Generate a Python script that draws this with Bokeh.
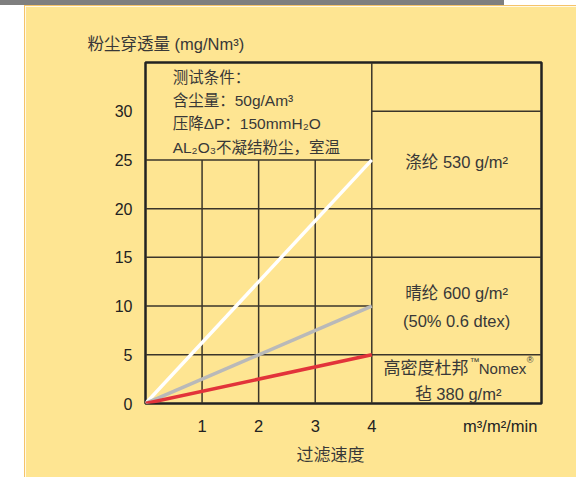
from bokeh.plotting import figure
from bokeh.models import Label, FixedTicker, Spacer, LinearAxis
from bokeh.layouts import row, column
from bokeh.embed import file_html
from bokeh.resources import INLINE

# ---- data ----
speed = [0, 4]                       # m3/m2/min
polyester_530 = [0, 25]              # 涤纶 530 g/m2
acrylic_600 = [0, 10]                # 晴纶 600 g/m2
nomex_380 = [0, 5]                   # Nomex 毡 380 g/m2

y_ticks = [0, 5, 10, 15, 20, 25, 30]
x_ticks = [1, 2, 3, 4]
x_unit_pos = 6.27
x_unit_text = "m³/m²/min"
x_title_pos = 3.27
x_title = "过滤速度"
y_title = "粉尘穿透量 (mg/Nm³)"

h_grid_y = [5, 10, 15, 20, 25, 30]
h_grid_x0 = [0, 0, 0, 0, 0, 4]
h_grid_x1 = [7, 4, 7, 7, 4, 7]
v_grid_x = [1, 2, 3, 4]
v_grid_y1 = [25, 25, 25, 35]

cond_lines = ["测试条件：", "含尘量：50g/Am³", "压降ΔP：150mmH₂O", "AL₂O₃不凝结粉尘，室温"]

BG = "#FEE592"
TXT = "#383838"
ORANGE = "#F5C36A"
FONT = "Liberation Sans, Noto Sans CJK SC"

p = figure(width=551, height=471, x_range=(0, 7), y_range=(0, 35),
           output_backend="svg", toolbar_location=None,
           min_border_left=120, min_border_right=35, min_border_top=56, min_border_bottom=74)
p.background_fill_color = BG
p.border_fill_color = BG
p.outline_line_color = "#222222"
p.outline_line_width = 2.5
p.xgrid.visible = False
p.ygrid.visible = False

p.title.text = y_title
p.title.text_font = FONT
p.title.text_font_size = "16.5px"
p.title.text_font_style = "normal"
p.title.text_color = TXT
p.title.align = "left"
p.title.offset = -58
p.title.standoff = 19

for ax in (p.xaxis, p.yaxis):
    ax.axis_line_color = None
    ax.major_tick_line_color = None
    ax.minor_tick_line_color = None
    ax.major_label_text_font = FONT
    ax.major_label_text_font_size = "16px"
    ax.major_label_text_color = "#222222"
p.xaxis.major_label_text_font_size = "16.5px"
p.yaxis.ticker = FixedTicker(ticks=y_ticks)
p.xaxis.ticker = FixedTicker(ticks=x_ticks + [x_unit_pos])
p.xaxis.major_label_overrides = {x_unit_pos: x_unit_text}
p.yaxis.major_label_standoff = 7
p.xaxis.major_label_standoff = 7

ax2 = LinearAxis(ticker=FixedTicker(ticks=[x_title_pos]),
                 major_label_overrides={x_title_pos: x_title},
                 axis_line_color=None, major_tick_line_color=None, minor_tick_line_color=None,
                 major_label_text_font=FONT, major_label_text_font_size="17px",
                 major_label_text_color=TXT, major_label_standoff=2)
p.add_layout(ax2, "below")

# grid
p.segment(x0=h_grid_x0, y0=h_grid_y, x1=h_grid_x1, y1=h_grid_y, line_color="#3a352a", line_width=1.5)
p.segment(x0=v_grid_x, y0=[0] * len(v_grid_x), x1=v_grid_x, y1=v_grid_y1, line_color="#3a352a", line_width=1.5)

# series
p.line(speed, polyester_530, line_color="white", line_width=3.5)
p.line(speed, acrylic_600, line_color="#b9b9b9", line_width=3.5)
p.line(speed, nomex_380, line_color="#e2333a", line_width=3.5)

def lab(x, y, t, size="16.5px", align="left", baseline="middle"):
    p.add_layout(Label(x=x, y=y, text=t, text_font=FONT, text_font_size=size,
                       text_color=TXT, text_align=align, text_baseline=baseline))

for i, t in enumerate(cond_lines):
    lab(0.48, 33.5 - i * 2.4, t, size="15.5px")

lab(5.5, 24.8, "涤纶 530 g/m²", align="center")
lab(5.5, 11.3, "晴纶 600 g/m²", align="center")
lab(5.5, 8.5, "(50% 0.6 dtex)", align="center")
lab(4.207, 3.6, "高密度杜邦", size="17px")
lab(5.73, 4.35, "™", size="10px")
lab(5.89, 3.62, "Nomex", size="15px")
lab(6.74, 4.45, "®", size="9px")
lab(5.53, 1.0, "毡 380 g/m²", align="center")

top_bar = Spacer(width=504, height=5, styles={"background-color": "#7f7f7f"})
left_pad = Spacer(width=24, height=472)
edge = Spacer(width=1, height=472, styles={"background-color": ORANGE})
top_edge = Spacer(width=551, height=1, styles={"background-color": ORANGE})
layout = column(top_bar, row(left_pad, edge, column(top_edge, p)))

open("out.html", "w").write(file_html(layout, INLINE))
